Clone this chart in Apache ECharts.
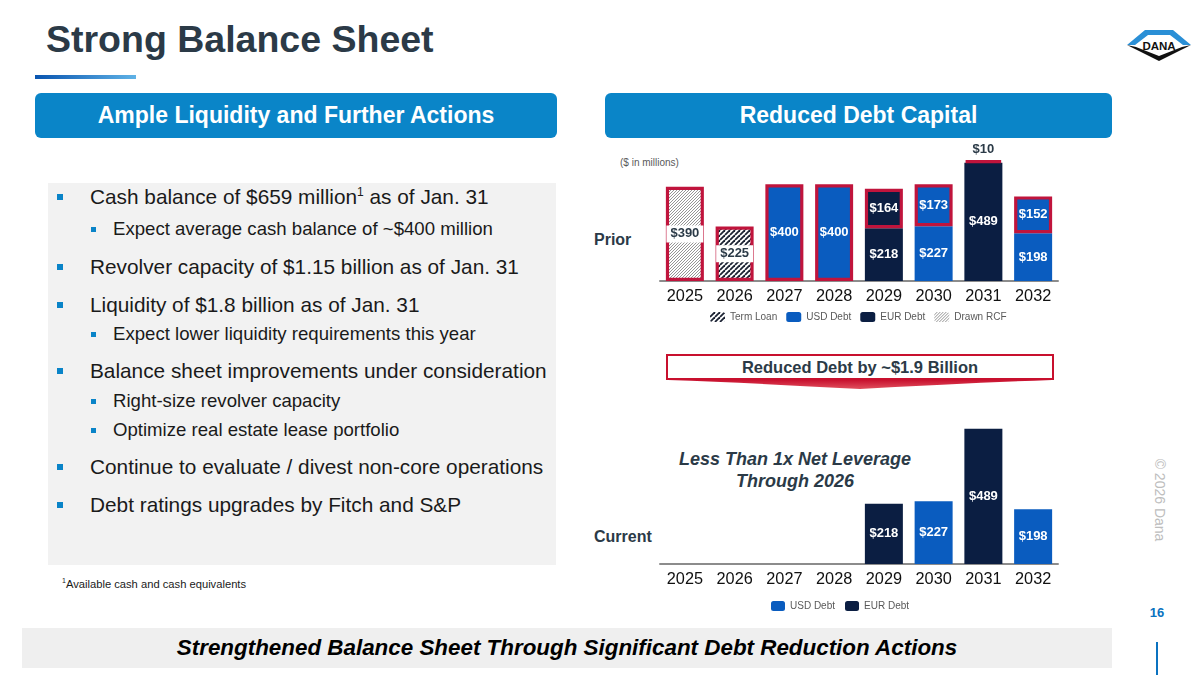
<!DOCTYPE html>
<html>
<head>
<meta charset="utf-8">
<script src="https://cdn.jsdelivr.net/npm/echarts@6/dist/echarts.min.js"></script>
<style>
  html, body { margin: 0; padding: 0; }
  body { width: 1200px; height: 675px; position: relative; overflow: hidden; background: #fff;
         font-family: Arial, "Liberation Sans", Helvetica, sans-serif; }
  .abs { position: absolute; white-space: nowrap; }
  #title { left: 46px; top: 19px; font-size: 37.5px; font-weight: bold; color: #2b3a47; line-height: 40px; }
  #uline { left: 35px; top: 75px; width: 101px; height: 4px; background: linear-gradient(90deg, #0a55b0, #5fb2e6); }
  .hdr { top: 93px; height: 45px; background: #0a85c8; border-radius: 6px; color: #fff; font-weight: bold;
         font-size: 23px; line-height: 45px; text-align: center; }
  #panel { left: 48px; top: 183px; width: 508px; height: 382px; background: #f2f2f2; }
  .b1 { left: 90px; font-size: 20.8px; color: #1a1a1a; line-height: 24px; }
  .b2 { left: 113px; font-size: 18.6px; color: #1a1a1a; line-height: 22px; }
  .sq1 { width: 6px; height: 6px; background: #0a84c8; left: 57px; }
  .sq2 { width: 5px; height: 5px; background: #0a84c8; left: 91px; }
  #foot { left: 62px; top: 574px; font-size: 11.2px; color: #1a1a1a; line-height: 14px; }
  #banner { left: 22px; top: 628px; width: 1090px; height: 40px; background: #efefef; text-align: center;
            font-size: 22.4px; font-weight: bold; font-style: italic; line-height: 40px; color: #000; }
  #copy { left: 1110px; top: 492px; width: 100px; text-align: center; font-size: 14px; color: #bdbdbd;
          transform: rotate(90deg); line-height: 16px; }
  #page { left: 1147px; top: 605px; width: 20px; text-align: center; font-size: 13px; font-weight: bold; color: #0a72c0; }
  #vline { left: 1156px; top: 642px; width: 2px; height: 33px; background: #0a72c0; }
  #chart { position: absolute; left: 0; top: 0; width: 1200px; height: 675px; z-index: 5; }
  .lab { font-weight: bold; color: #2b3a47; font-size: 16px; line-height: 18px; }
  #callout { left: 666px; top: 354px; width: 388px; height: 26px; box-sizing: border-box; border: 2px solid #c8102e;
             background: #fff; text-align: center; font-weight: bold; font-size: 16.5px; line-height: 22px; color: #2b3a47; }
  .lev { width: 300px; left: 645px; text-align: center; font-weight: bold; font-style: italic; font-size: 18px;
         color: #2b3a47; line-height: 20px; }
</style>
</head>
<body>
<div id="title" class="abs">Strong Balance Sheet</div>
<div id="uline" class="abs"></div>
<div class="abs hdr" style="left:35px;width:522px;">Ample Liquidity and Further Actions</div>
<div class="abs hdr" style="left:605px;width:507px;">Reduced Debt Capital</div>

<svg class="abs" style="left:1126px;top:27px;" width="66" height="36" viewBox="0 0 66 36">
  <path d="M1 18 L19 3 L47 3 L65 18 L57 18 L44 8 L22 8 L9 18 Z" fill="#2a8fd6"/>
  <path d="M1 18 L33 34 L65 18 L56 20 L33 29 L10 20 Z" fill="#111"/>
  <text x="33" y="23" text-anchor="middle" font-family="Arial" font-weight="bold" font-size="11.5" fill="#111">DANA</text>
</svg>

<div id="panel" class="abs"></div>
<div class="abs sq1" style="top:194px;"></div>
<div class="abs b1" style="top:185px;">Cash balance of $659 million<sup style="font-size:12px;line-height:0;">1</sup> as of Jan. 31</div>
<div class="abs sq2" style="top:227px;"></div>
<div class="abs b2" style="top:218px;">Expect average cash balance of ~$400 million</div>
<div class="abs sq1" style="top:264px;"></div>
<div class="abs b1" style="top:255px;">Revolver capacity of $1.15 billion as of Jan. 31</div>
<div class="abs sq1" style="top:302px;"></div>
<div class="abs b1" style="top:293px;">Liquidity of $1.8 billion as of Jan. 31</div>
<div class="abs sq2" style="top:332px;"></div>
<div class="abs b2" style="top:323px;">Expect lower liquidity requirements this year</div>
<div class="abs sq1" style="top:368px;"></div>
<div class="abs b1" style="top:359px;">Balance sheet improvements under consideration</div>
<div class="abs sq2" style="top:399px;"></div>
<div class="abs b2" style="top:390px;">Right-size revolver capacity</div>
<div class="abs sq2" style="top:428px;"></div>
<div class="abs b2" style="top:419px;">Optimize real estate lease portfolio</div>
<div class="abs sq1" style="top:464px;"></div>
<div class="abs b1" style="top:455px;">Continue to evaluate / divest non-core operations</div>
<div class="abs sq1" style="top:502px;"></div>
<div class="abs b1" style="top:493px;">Debt ratings upgrades by Fitch and S&amp;P</div>
<div id="foot" class="abs"><sup style="font-size:7px;">1</sup>Available cash and cash equivalents</div>

<div class="abs" style="left:620px;top:157px;font-size:10px;color:#595959;">($ in millions)</div>
<div class="abs lab" style="left:594px;top:231px;">Prior</div>
<div class="abs lab" style="left:594px;top:528px;">Current</div>
<div id="callout" class="abs">Reduced Debt by ~$1.9 Billion</div>
<svg class="abs" style="left:666px;top:380px;" width="388" height="10">
  <defs><linearGradient id="rg" x1="0" x2="0" y1="0" y2="1"><stop offset="0" stop-color="#c8102e"/><stop offset="1" stop-color="#e0505e"/></linearGradient></defs>
  <path d="M2 0 L386 0 Q300 3 194 9 Q88 3 2 0 Z" fill="url(#rg)"/>
</svg>
<div class="abs lev" style="top:449px;">Less Than 1x Net Leverage</div>
<div class="abs lev" style="top:471px;">Through 2026</div>

<div id="banner" class="abs">Strengthened Balance Sheet Through Significant Debt Reduction Actions</div>
<div id="copy" class="abs">© 2026 Dana</div>
<div id="page" class="abs">16</div>
<div id="vline" class="abs"></div>

<div id="chart"></div>
<script>
// ---- data ----
const years = ['2025', '2026', '2027', '2028', '2029', '2030', '2031', '2032'];
// Prior maturity profile: portion still outstanding
const priorUsdRemaining = [null, null, null, null, null, 227, null, 198];
const priorEurRemaining = [null, null, null, null, 218, null, 489, null];
// Prior maturity profile: portion since retired (red outlined)
const priorDrawnRcf = [390, null, null, null, null, null, null, null];
const priorTermLoan = [null, 225, null, null, null, null, null, null];
const priorUsdRetired = [null, null, 400, 400, null, 173, null, 152];
const priorEurRetired = [null, null, null, null, 164, null, 10, null];
// Current maturity profile
const currentUsd = [null, null, null, null, null, 227, null, 198];
const currentEur = [null, null, null, null, 218, null, 489, null];

const USD = '#0a5cbf', EUR = '#0b1e42', RED = '#c0143c', DARK = '#2b3a47';

function hatch(size, lw, color) {
  const c = document.createElement('canvas');
  c.width = size; c.height = size;
  const g = c.getContext('2d');
  g.fillStyle = '#fff'; g.fillRect(0, 0, size, size);
  g.strokeStyle = color; g.lineWidth = lw;
  for (const k of [-size, 0, size]) {
    g.beginPath(); g.moveTo(k, size); g.lineTo(k + size, 0); g.stroke();
  }
  return { image: c, repeat: 'repeat' };
}
const termPattern = hatch(5, 1.8, '#1b2233');
const rcfPattern = hatch(3, 0.8, '#7a7a7a');

const whiteLabel = { show: true, position: 'inside', color: '#fff', fontWeight: 'bold', fontSize: 13,
  fontFamily: 'Arial', formatter: p => '$' + p.value };
const boxLabel = { show: true, position: 'inside', color: DARK, fontWeight: 'bold', fontSize: 13,
  fontFamily: 'Arial', backgroundColor: '#fff', padding: [2, 4], formatter: p => '$' + p.value };

function withSmallTop(arr) {
  return arr.map(v => (v != null && v < 30)
    ? { value: v, label: { position: 'top', color: DARK, distance: 4 } } : v);
}

const BW = 38;
const baseBar = (extra) => Object.assign({ type: 'bar', barWidth: BW, stack: 'prior', xAxisIndex: 0, yAxisIndex: 0 }, extra);
const redBorder = { borderColor: RED, borderWidth: 3.2 };

const xAx = (gi) => ({
  type: 'category', gridIndex: gi, data: years,
  axisLine: { lineStyle: { color: '#8c8c8c', width: 2 } },
  axisTick: { show: false },
  axisLabel: { color: '#111', fontSize: 16.3, fontFamily: 'Arial', margin: 8 }
});
const yAx = (gi) => ({ type: 'value', gridIndex: gi, min: 0, max: 600, show: false, splitLine: { show: false } });

const option = {
  animation: false,
  grid: [
    { left: 660, width: 398, top: 136, height: 145 },
    { left: 660, width: 398, top: 398, height: 166 }
  ],
  xAxis: [xAx(0), xAx(1)],
  yAxis: [yAx(0), yAx(1)],
  legend: [
    { left: 710, top: 312, padding: 0, itemWidth: 15, itemHeight: 10, itemGap: 9, selectedMode: false,
      textStyle: { fontSize: 10, color: '#595959', fontFamily: 'Arial' },
      data: [
        { name: 'Term Loan', itemStyle: { borderWidth: 0 } },
        { name: 'USD Debt' },
        { name: 'EUR Debt' },
        { name: 'Drawn RCF', itemStyle: { borderWidth: 0 } }
      ] },
    { left: 771, top: 601, padding: 0, itemWidth: 14, itemHeight: 10, itemGap: 10, selectedMode: false,
      textStyle: { fontSize: 10, color: '#595959', fontFamily: 'Arial' },
      data: ['USD Debt', 'EUR Debt'] }
  ],
  series: [
    baseBar({ name: 'USD Debt', data: priorUsdRemaining, itemStyle: { color: USD }, label: whiteLabel }),
    baseBar({ name: 'EUR Debt', data: priorEurRemaining, itemStyle: { color: EUR }, label: whiteLabel }),
    baseBar({ name: 'Drawn RCF', data: priorDrawnRcf, itemStyle: Object.assign({ color: rcfPattern }, redBorder), label: boxLabel }),
    baseBar({ name: 'Term Loan', data: priorTermLoan, itemStyle: Object.assign({ color: termPattern }, redBorder), label: boxLabel }),
    baseBar({ name: 'USD Debt', data: priorUsdRetired, itemStyle: Object.assign({ color: USD }, redBorder), label: whiteLabel }),
    baseBar({ name: 'EUR Debt', data: withSmallTop(priorEurRetired), itemStyle: Object.assign({ color: EUR }, redBorder), label: whiteLabel }),
    { type: 'bar', name: 'USD Debt', stack: 'current', xAxisIndex: 1, yAxisIndex: 1, barWidth: BW,
      data: currentUsd, itemStyle: { color: USD }, label: whiteLabel },
    { type: 'bar', name: 'EUR Debt', stack: 'current', xAxisIndex: 1, yAxisIndex: 1, barWidth: BW,
      data: currentEur, itemStyle: { color: EUR }, label: whiteLabel }
  ]
};
const chart = echarts.init(document.getElementById('chart'), null, { renderer: 'canvas' });
chart.setOption(option);
</script>
</body>
</html>
